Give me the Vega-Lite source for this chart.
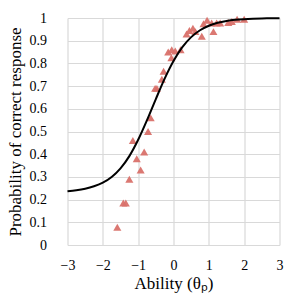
{
  "$schema": "https://vega.github.io/schema/vega-lite/v6.json",
  "width": 212,
  "height": 227,
  "autosize": {"type": "none"},
  "padding": {"left": 67.5, "top": 18, "right": 22.5, "bottom": 57},
  "background": "white",
  "config": {
    "view": {"stroke": null}
  },
  "datasets": {
    "curve": [
      {"theta": -3, "p": 0.2368}, {"theta": -2.75, "p": 0.241}, {"theta": -2.5, "p": 0.2478},
      {"theta": -2.25, "p": 0.2586}, {"theta": -2, "p": 0.2745}, {"theta": -1.75, "p": 0.2995},
      {"theta": -1.5, "p": 0.3375}, {"theta": -1.25, "p": 0.3915}, {"theta": -1, "p": 0.4635},
      {"theta": -0.75, "p": 0.55}, {"theta": -0.5, "p": 0.643}, {"theta": -0.25, "p": 0.733},
      {"theta": 0, "p": 0.8105}, {"theta": 0.25, "p": 0.8715}, {"theta": 0.5, "p": 0.9158},
      {"theta": 0.75, "p": 0.946}, {"theta": 1, "p": 0.966}, {"theta": 1.25, "p": 0.9788},
      {"theta": 1.5, "p": 0.9868}, {"theta": 1.75, "p": 0.9919}, {"theta": 2, "p": 0.995},
      {"theta": 2.25, "p": 0.9969}, {"theta": 2.5, "p": 0.9981}, {"theta": 2.75, "p": 0.9988},
      {"theta": 3, "p": 0.9993}
    ],
    "points": [
      {"theta": -1.59, "p": 0.078}, {"theta": -1.42, "p": 0.185}, {"theta": -1.35, "p": 0.185},
      {"theta": -1.25, "p": 0.29}, {"theta": -0.93, "p": 0.33}, {"theta": -1.04, "p": 0.38},
      {"theta": -0.83, "p": 0.41}, {"theta": -1.15, "p": 0.46}, {"theta": -0.72, "p": 0.5},
      {"theta": -0.645, "p": 0.56}, {"theta": -0.52, "p": 0.69}, {"theta": -0.47, "p": 0.69},
      {"theta": -0.33, "p": 0.73}, {"theta": -0.28, "p": 0.765}, {"theta": -0.15, "p": 0.85},
      {"theta": -0.06, "p": 0.825}, {"theta": -0.05, "p": 0.86}, {"theta": 0.05, "p": 0.855},
      {"theta": 0.2, "p": 0.86}, {"theta": 0.37, "p": 0.93}, {"theta": 0.45, "p": 0.945},
      {"theta": 0.55, "p": 0.955}, {"theta": 0.62, "p": 0.94}, {"theta": 0.8, "p": 0.92},
      {"theta": 0.85, "p": 0.975}, {"theta": 0.95, "p": 0.99}, {"theta": 1.08, "p": 0.978},
      {"theta": 1.13, "p": 0.94}, {"theta": 1.22, "p": 0.978}, {"theta": 1.32, "p": 0.978},
      {"theta": 1.55, "p": 0.98}, {"theta": 1.65, "p": 0.985}, {"theta": 1.8, "p": 0.995},
      {"theta": 2.0, "p": 0.995}
    ]
  },
  "encoding": {
    "x": {"field": "theta", "type": "quantitative",
          "scale": {"domain": [-3, 3], "nice": false, "zero": false},
          "axis": {"values": [-3, -2, -1, 0, 1, 2, 3], "format": "d", "title": "Ability (θₚ)",
                   "labelPadding": 13, "titlePadding": 3, "grid": true, "gridColor": "#d9d9d9", "gridWidth": 1.2,
                   "domain": false, "ticks": false, "labelOverlap": false, "labelFlush": false,
                   "labelFont": "Liberation Serif", "titleFont": "Liberation Serif", "labelFontSize": 14, "titleFontSize": 17,
                   "labelColor": "#000000", "titleColor": "#000000", "titleFontWeight": "normal"}},
    "y": {"field": "p", "type": "quantitative",
          "scale": {"domain": [0, 1], "nice": false},
          "axis": {"values": [0, 0.1, 0.2, 0.3, 0.4, 0.5, 0.6, 0.7, 0.8, 0.9, 1], "format": "~g", "title": "Probability of correct response",
                   "labelPadding": 21, "titlePadding": 5, "grid": true, "gridColor": "#d9d9d9", "gridWidth": 1.2,
                   "domain": false, "ticks": false, "labelOverlap": false, "labelFlush": false,
                   "labelFont": "Liberation Serif", "titleFont": "Liberation Serif", "labelFontSize": 14, "titleFontSize": 17,
                   "labelColor": "#000000", "titleColor": "#000000", "titleFontWeight": "normal"}}
  },
  "layer": [
    {
      "data": {"name": "points"},
      "mark": {"type": "point", "shape": "triangle-up", "filled": true, "size": 65, "color": "#d9716a", "opacity": 0.95}
    },
    {
      "data": {"name": "curve"},
      "mark": {"type": "line", "color": "#000000", "strokeWidth": 2, "interpolate": "monotone"}
    }
  ]
}
